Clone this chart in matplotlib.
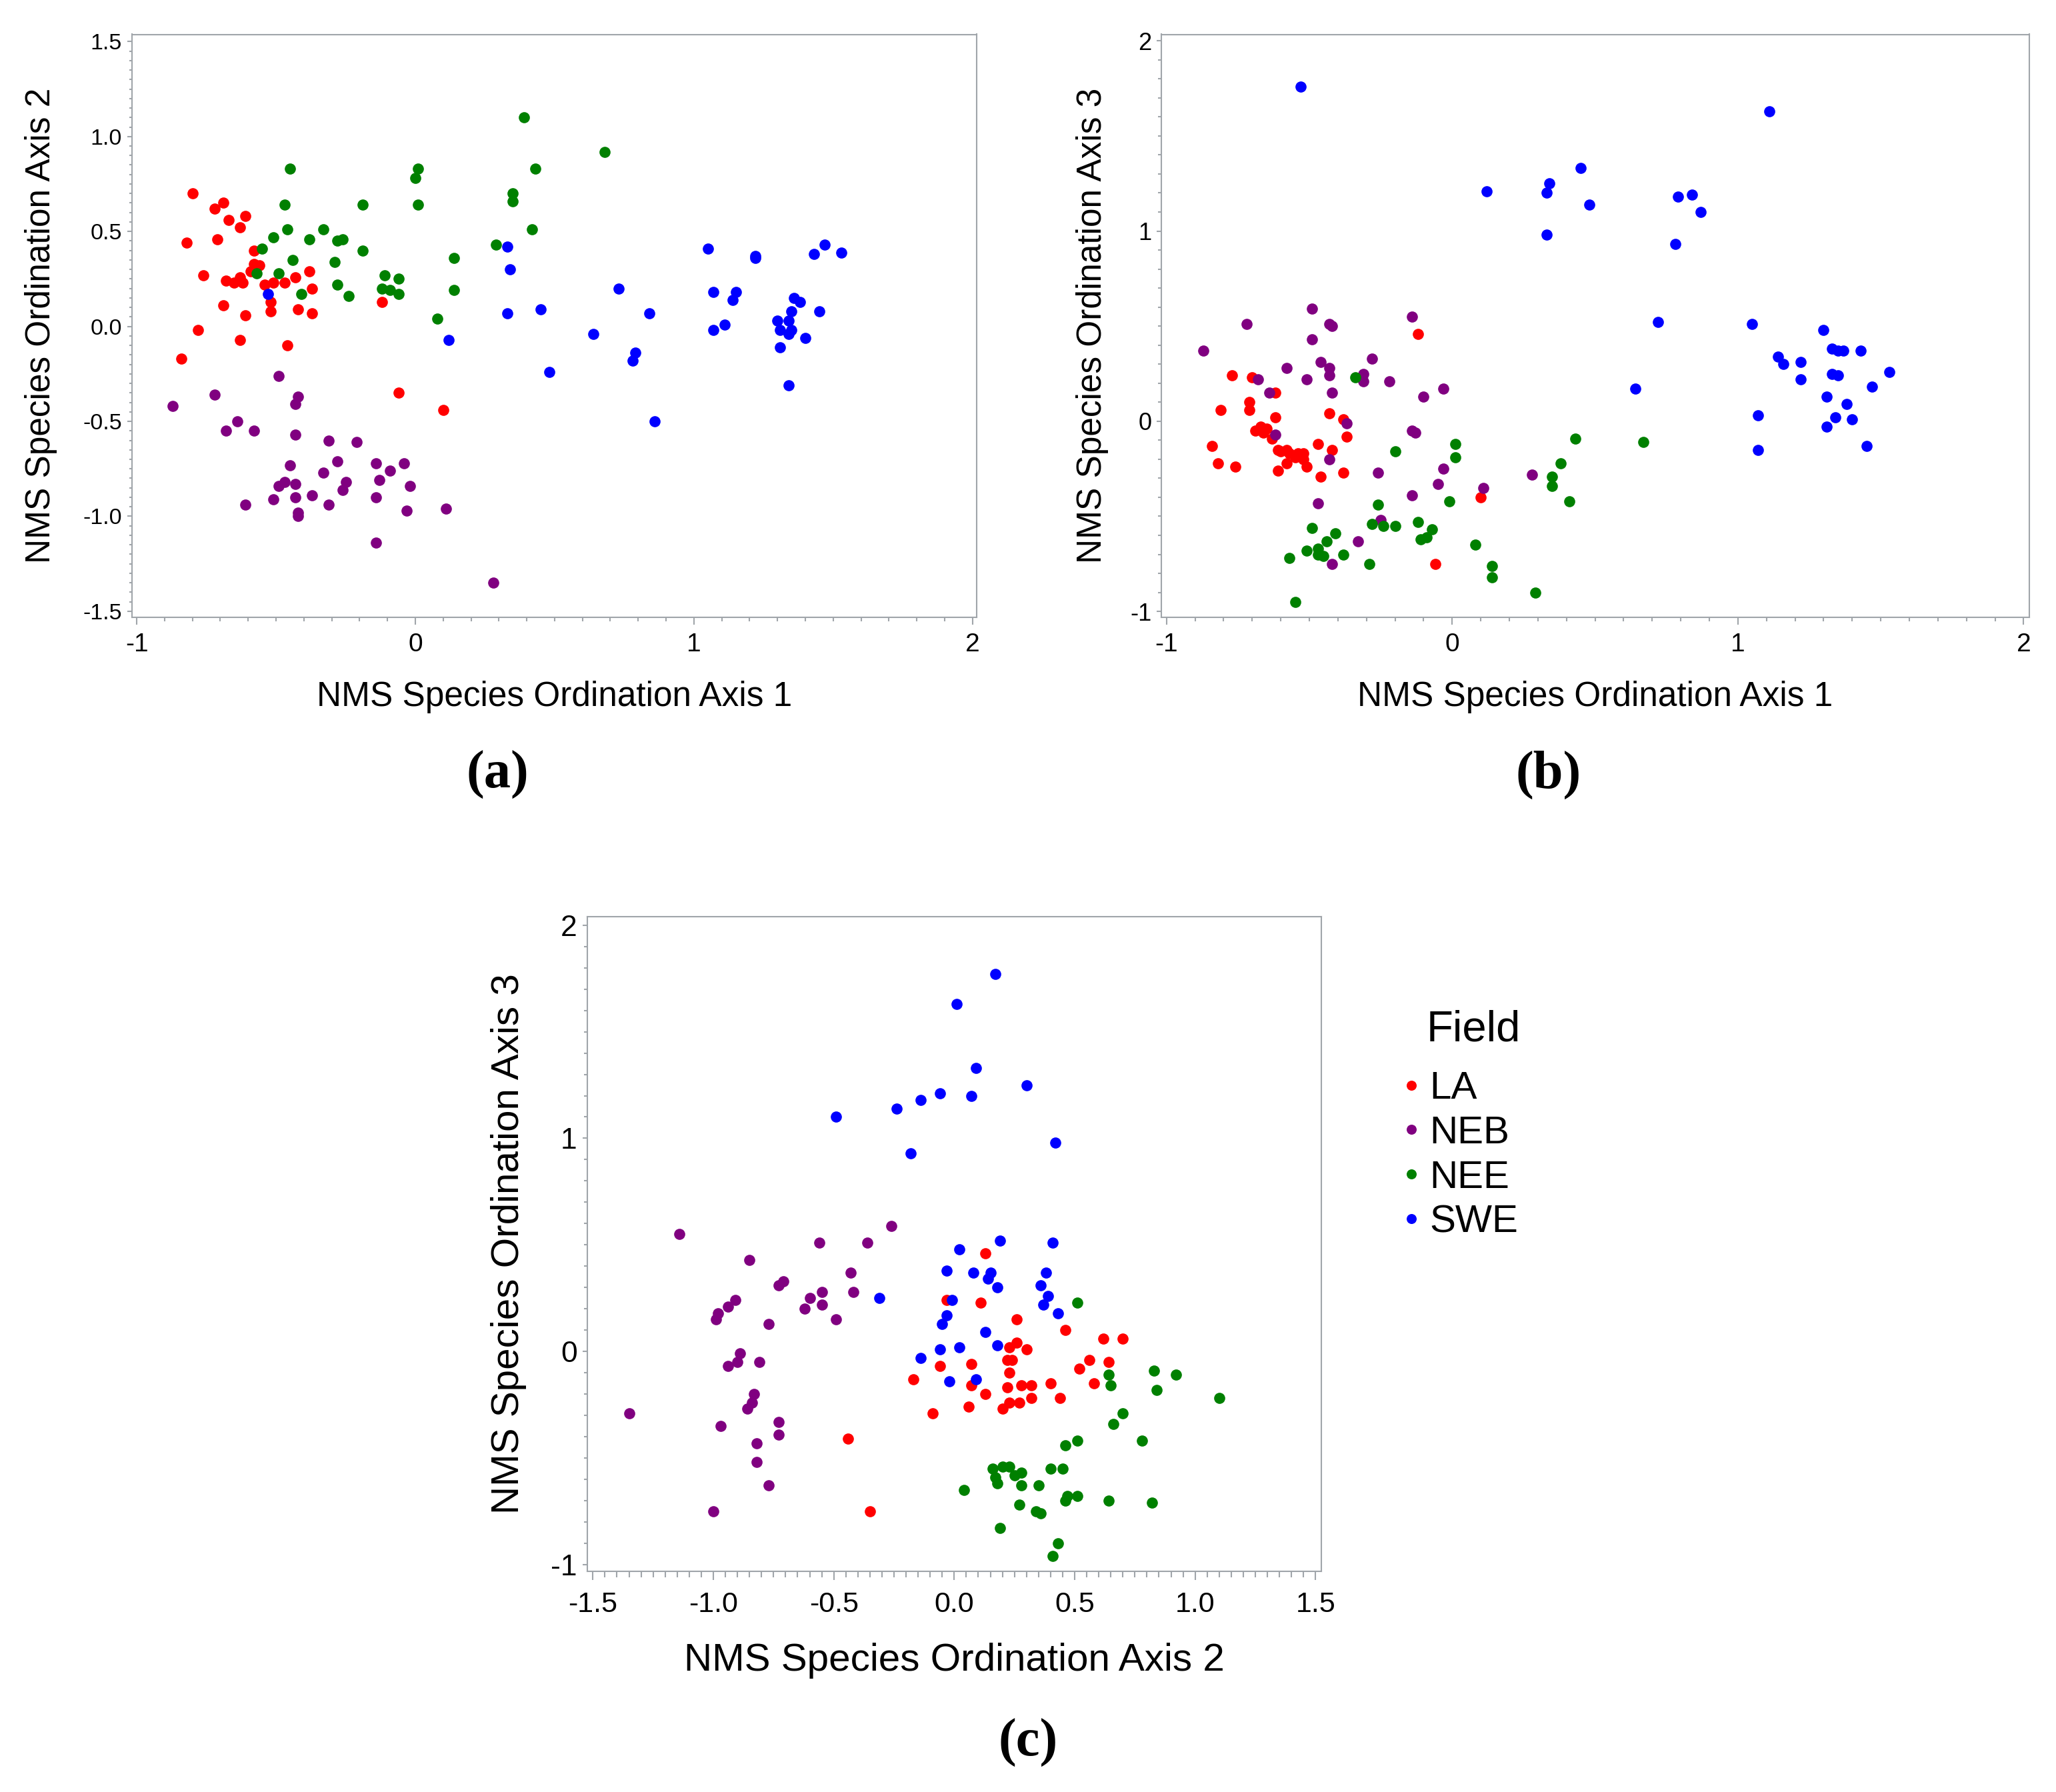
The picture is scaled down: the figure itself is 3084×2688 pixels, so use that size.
import matplotlib
matplotlib.use("Agg")
import matplotlib.pyplot as plt
from matplotlib.ticker import MultipleLocator, FormatStrFormatter

plt.rcParams['font.family'] = ['Liberation Sans', 'DejaVu Sans']
plt.rcParams['axes.unicode_minus'] = False

fields = ["LA", "NEB", "NEE", "SWE"]
colors = ["#ff0000", "#800080", "#008000", "#0000ff"]

# (a) axis 1 vs axis 2
a_la_x = [-0.80, -0.69, -0.72, -0.61, -0.67, -0.63, -0.82, -0.71, -0.58, -0.58, -0.56, -0.59,
          -0.76, -0.68, -0.65, -0.63, -0.62, -0.54, -0.51, -0.47, -0.43, -0.38, -0.37, -0.52,
          -0.52, -0.69, -0.61, -0.42, -0.37, -0.12, -0.78, -0.63, -0.46, -0.84, -0.06, 0.10]
a_la_y = [0.70, 0.65, 0.62, 0.58, 0.56, 0.52, 0.44, 0.46, 0.40, 0.33, 0.32, 0.29,
          0.27, 0.24, 0.23, 0.26, 0.23, 0.22, 0.23, 0.23, 0.26, 0.29, 0.20, 0.13,
          0.08, 0.11, 0.06, 0.09, 0.07, 0.13, -0.02, -0.07, -0.10, -0.17, -0.35, -0.44]
a_neb_x = [-0.49, -0.72, -0.87, -0.42, -0.43, -0.64, -0.68, -0.58, -0.43, -0.31, -0.21, -0.45,
           -0.28, -0.33, -0.14, -0.09, -0.04, -0.13, -0.47, -0.49, -0.43, -0.25, -0.26, -0.02,
           -0.51, -0.43, -0.37, -0.14, -0.61, -0.31, -0.42, -0.42, -0.03, 0.11, -0.14, 0.28]
a_neb_y = [-0.26, -0.36, -0.42, -0.37, -0.41, -0.50, -0.55, -0.55, -0.57, -0.60, -0.61, -0.73,
           -0.71, -0.77, -0.72, -0.76, -0.72, -0.81, -0.82, -0.84, -0.83, -0.82, -0.86, -0.84,
           -0.91, -0.90, -0.89, -0.90, -0.94, -0.94, -0.98, -1.00, -0.97, -0.96, -1.14, -1.35]
a_nee_x = [-0.45, -0.47, 0.39, 0.01, 0.00, 0.01, 0.43, 0.35, 0.35, 0.42, 0.29, -0.19,
           -0.46, -0.51, -0.33, -0.38, -0.28, -0.26, -0.55, -0.44, -0.19, -0.29, -0.57, -0.49,
           -0.11, -0.06, 0.14, -0.28, -0.41, -0.24, -0.12, -0.09, -0.06, 0.14, 0.08, 0.68]
a_nee_y = [0.83, 0.64, 1.10, 0.83, 0.78, 0.64, 0.83, 0.70, 0.66, 0.51, 0.43, 0.64,
           0.51, 0.47, 0.51, 0.46, 0.45, 0.46, 0.41, 0.35, 0.40, 0.34, 0.28, 0.28,
           0.27, 0.25, 0.36, 0.22, 0.17, 0.16, 0.20, 0.19, 0.17, 0.19, 0.04, 0.92]
a_swe_x = [-0.53, 0.33, 0.34, 0.33, 0.45, 0.12, 0.48, 0.73, 0.64, 0.84, 0.79, 0.78,
           0.86, 1.05, 1.07, 1.07, 1.11, 1.14, 1.15, 1.22, 1.22, 1.30, 1.34, 1.35,
           1.31, 1.34, 1.35, 1.31, 1.34, 1.36, 1.38, 1.40, 1.45, 1.43, 1.47, 1.53]
a_swe_y = [0.17, 0.42, 0.30, 0.07, 0.09, -0.07, -0.24, 0.20, -0.04, 0.07, -0.14, -0.18,
           -0.50, 0.41, 0.18, -0.02, 0.01, 0.14, 0.18, 0.36, 0.37, 0.03, 0.03, 0.08,
           -0.02, -0.04, -0.02, -0.11, -0.31, 0.15, 0.13, -0.06, 0.08, 0.38, 0.43, 0.39]

# (b) axis 1 vs axis 3
b_la_x = [-0.12, -0.77, -0.70, -0.62, -0.71, -0.71, -0.81, -0.62, -0.43, -0.38, -0.37, -0.69,
          -0.67, -0.65, -0.63, -0.84, -0.47, -0.61, -0.58, -0.57, -0.54, -0.52, -0.52, -0.42,
          -0.82, -0.76, -0.58, -0.61, -0.51, -0.46, -0.38, 0.10, -0.06, -0.60, -0.55, -0.66]
b_la_y = [0.46, 0.24, 0.23, 0.15, 0.10, 0.06, 0.06, 0.02, 0.04, 0.01, -0.08, -0.05,
          -0.03, -0.04, -0.09, -0.13, -0.12, -0.15, -0.15, -0.17, -0.17, -0.17, -0.20, -0.15,
          -0.22, -0.24, -0.22, -0.26, -0.24, -0.29, -0.27, -0.40, -0.75, -0.16, -0.19, -0.06]
b_neb_x = [-0.49, -0.72, -0.43, -0.42, -0.14, -0.49, -0.87, -0.28, -0.58, -0.46, -0.43, -0.43,
           -0.51, -0.68, -0.31, -0.31, -0.22, -0.64, -0.42, -0.03, -0.10, -0.37, -0.62, -0.14,
           -0.13, -0.43, -0.26, -0.03, -0.05, 0.11, 0.28, -0.14, -0.47, -0.25, -0.33, -0.42]
b_neb_y = [0.59, 0.51, 0.51, 0.50, 0.55, 0.43, 0.37, 0.33, 0.28, 0.31, 0.28, 0.24,
           0.22, 0.22, 0.25, 0.21, 0.21, 0.15, 0.15, 0.17, 0.13, -0.01, -0.07, -0.05,
           -0.06, -0.20, -0.27, -0.25, -0.33, -0.35, -0.28, -0.39, -0.43, -0.52, -0.63, -0.75]
b_nee_x = [-0.34, 0.01, 0.01, -0.20, 0.43, 0.38, 0.35, 0.35, 0.41, -0.01, -0.26, -0.28,
           -0.24, -0.20, -0.12, -0.07, -0.11, -0.09, -0.49, -0.41, -0.44, -0.51, -0.47, -0.47,
           -0.45, -0.38, -0.29, -0.57, 0.08, 0.14, 0.14, 0.29, -0.55, 0.67]
b_nee_y = [0.23, -0.12, -0.19, -0.16, -0.09, -0.22, -0.29, -0.34, -0.42, -0.42, -0.44, -0.54,
           -0.55, -0.55, -0.53, -0.57, -0.62, -0.61, -0.56, -0.59, -0.63, -0.68, -0.67, -0.70,
           -0.71, -0.70, -0.75, -0.72, -0.65, -0.76, -0.82, -0.90, -0.95, -0.11]
b_swe_x = [-0.53, 0.12, 0.34, 0.33, 0.45, 0.48, 0.33, 0.79, 0.84, 0.87, 0.78, 0.72,
           0.64, 1.11, 1.05, 1.30, 1.33, 1.35, 1.37, 1.43, 1.14, 1.16, 1.22, 1.22,
           1.33, 1.35, 1.53, 1.47, 1.31, 1.38, 1.07, 1.34, 1.40, 1.31, 1.07, 1.45]
b_swe_y = [1.76, 1.21, 1.25, 1.20, 1.33, 1.14, 0.98, 1.18, 1.19, 1.10, 0.93, 0.52,
           0.17, 1.63, 0.51, 0.48, 0.38, 0.37, 0.37, 0.37, 0.34, 0.30, 0.31, 0.22,
           0.25, 0.24, 0.26, 0.18, 0.13, 0.09, 0.03, 0.02, 0.01, -0.03, -0.15, -0.13]

# (c) axis 2 vs axis 3
c_la_x = [-0.44, -0.35, -0.17, -0.06, -0.09, -0.03, 0.13, 0.11, 0.26, 0.46, 0.62, 0.70,
          0.23, 0.26, 0.30, 0.22, 0.24, 0.56, 0.64, 0.07, 0.52, 0.23, 0.07, 0.22,
          0.28, 0.32, 0.40, 0.58, 0.13, 0.32, 0.44, 0.23, 0.27, 0.06, 0.20]
c_la_y = [-0.41, -0.75, -0.13, -0.07, -0.29, 0.24, 0.46, 0.23, 0.15, 0.10, 0.06, 0.06,
          0.02, 0.04, 0.01, -0.04, -0.04, -0.04, -0.05, -0.06, -0.08, -0.10, -0.16, -0.17,
          -0.16, -0.16, -0.15, -0.15, -0.20, -0.22, -0.22, -0.24, -0.24, -0.26, -0.27]
c_neb_x = [-1.14, -1.35, -0.85, -0.56, -0.36, -0.26, -0.43, -0.42, -0.73, -0.71, -0.60, -0.55,
           -0.55, -0.62, -0.49, -0.91, -0.94, -0.98, -0.99, -0.77, -0.89, -0.90, -0.94, -0.81,
           -0.83, -0.84, -0.86, -0.97, -0.73, -0.73, -0.82, -0.82, -0.77, -1.00]
c_neb_y = [0.55, -0.29, 0.43, 0.51, 0.51, 0.59, 0.37, 0.28, 0.31, 0.33, 0.25, 0.28,
           0.22, 0.20, 0.15, 0.24, 0.21, 0.18, 0.15, 0.13, -0.01, -0.05, -0.07, -0.05,
           -0.20, -0.24, -0.27, -0.35, -0.33, -0.39, -0.43, -0.52, -0.63, -0.75]
c_nee_x = [0.51, 0.83, 0.92, 0.64, 0.65, 0.84, 1.10, 0.70, 0.66, 0.51, 0.46, 0.78,
           0.16, 0.20, 0.23, 0.25, 0.28, 0.17, 0.18, 0.28, 0.35, 0.40, 0.45, 0.04,
           0.47, 0.46, 0.51, 0.64, 0.82, 0.27, 0.34, 0.36, 0.19, 0.43, 0.41]
c_nee_y = [0.23, -0.09, -0.11, -0.11, -0.16, -0.18, -0.22, -0.29, -0.34, -0.42, -0.44, -0.42,
           -0.55, -0.54, -0.54, -0.58, -0.57, -0.59, -0.62, -0.63, -0.63, -0.55, -0.55, -0.65,
           -0.68, -0.70, -0.68, -0.70, -0.71, -0.72, -0.75, -0.76, -0.83, -0.90, -0.96]
c_swe_x = [0.17, 0.01, 0.09, 0.30, -0.06, 0.07, -0.14, -0.24, -0.49, -0.18, 0.42, 0.19,
           0.02, 0.41, -0.03, 0.08, 0.15, 0.14, 0.18, 0.38, 0.36, 0.39, 0.37, 0.43,
           -0.31, -0.01, -0.03, -0.05, 0.13, -0.06, 0.02, 0.18, -0.14, -0.02, 0.09]
c_swe_y = [1.77, 1.63, 1.33, 1.25, 1.21, 1.20, 1.18, 1.14, 1.10, 0.93, 0.98, 0.52,
           0.48, 0.51, 0.38, 0.37, 0.37, 0.34, 0.30, 0.37, 0.31, 0.26, 0.22, 0.18,
           0.25, 0.24, 0.17, 0.13, 0.09, 0.01, 0.02, 0.03, -0.03, -0.14, -0.13]

gray = "#a0a5aa"
W, H = 3084, 2688


def box(left, top, right, bottom):
    return [left / W, 1 - bottom / H, (right - left) / W, (bottom - top) / H]


def draw(ax, series):
    lines = []
    for (x, y), c in zip(series, colors):
        ln, = ax.plot(x, y, "o", color=c, ms=12, mec="none", ls="none")
        lines.append(ln)
    return lines


def setup(ax, xlim, ylim, xstep, ystep, xfmt, yfmt, xlab, ylab,
          tick_fs, lab_fs, xlab_y, ylab_x, xlen, ylen, xpad, ypad):
    ax.set_xlim(*xlim)
    ax.set_ylim(*ylim)
    ax.xaxis.set_major_locator(MultipleLocator(xstep[0]))
    ax.xaxis.set_minor_locator(MultipleLocator(xstep[1]))
    ax.yaxis.set_major_locator(MultipleLocator(ystep[0]))
    ax.yaxis.set_minor_locator(MultipleLocator(ystep[1]))
    ax.xaxis.set_major_formatter(FormatStrFormatter(xfmt))
    ax.yaxis.set_major_formatter(FormatStrFormatter(yfmt))
    for s in ax.spines.values():
        s.set_color(gray)
        s.set_linewidth(1.5)
    ax.tick_params(axis="x", which="major", length=xlen[0], width=1.5, color=gray,
                   labelsize=tick_fs[0], pad=xpad)
    ax.tick_params(axis="x", which="minor", length=xlen[1], width=1.5, color=gray)
    ax.tick_params(axis="y", which="major", length=ylen[0], width=1.5, color=gray,
                   labelsize=tick_fs[1], pad=ypad)
    ax.tick_params(axis="y", which="minor", length=ylen[1], width=1.5, color=gray)
    ax.set_xlabel(xlab, fontsize=lab_fs, va="baseline")
    ax.xaxis.set_label_coords(0.5, xlab_y)
    ax.set_ylabel(ylab, fontsize=lab_fs, va="baseline", rotation_mode="anchor")
    ax.yaxis.set_label_coords(ylab_x, 0.5)


fig = plt.figure(figsize=(W / 100, H / 100), dpi=100)

ax_a = fig.add_axes(box(198, 51.5, 1465, 926))
draw(ax_a, [(a_la_x, a_la_y), (a_neb_x, a_neb_y), (a_nee_x, a_nee_y), (a_swe_x, a_swe_y)])
setup(ax_a, (-1.017, 2.015), (-1.532, 1.538), (1, 0.1), (0.5, 0.05), "%d", "%.1f",
      "NMS Species Ordination Axis 1", "NMS Species Ordination Axis 2",
      (28, 24.5), 37, -0.1516, -0.097, (7.7, 4.3), (4.7, 3.2), 9, 6)

ax_b = fig.add_axes(box(1742, 51.5, 3044, 926))
draw(ax_b, [(b_la_x, b_la_y), (b_neb_x, b_neb_y), (b_nee_x, b_nee_y), (b_swe_x, b_swe_y)])
setup(ax_b, (-1.018, 2.02), (-1.031, 2.034), (1, 0.1), (1, 0.1), "%d", "%d",
      "NMS Species Ordination Axis 1", "NMS Species Ordination Axis 3",
      (28, 26), 37, -0.1516, -0.0695, (7.7, 4.3), (4.7, 3.6), 9, 6)

ax_c = fig.add_axes(box(881, 1375, 1982, 2357))
handles = draw(ax_c, [(c_la_x, c_la_y), (c_neb_x, c_neb_y), (c_nee_x, c_nee_y), (c_swe_x, c_swe_y)])
setup(ax_c, (-1.523, 1.524), (-1.032, 2.04), (0.5, 0.05), (1, 0.1), "%.1f", "%d",
      "NMS Species Ordination Axis 2", "NMS Species Ordination Axis 3",
      (31, 32), 42, -0.1522, -0.0934, (9.4, 6.5), (5, 3.6), 12, 6)

# legend entries, with the "Field" heading set as its own text above them
fig.legend(handles, fields, loc="upper left",
           bbox_to_anchor=(2102 / W, 1 - 1606 / H), frameon=False,
           fontsize=42, handlelength=0.5, handletextpad=0.22,
           labelspacing=0.22, markerscale=0.9, borderpad=0, borderaxespad=0)
fig.text(2210 / W, 1 - 1544 / H, "Field", fontsize=47, ha="center", va="center")

panel_font = dict(family="Liberation Serif", weight="bold", size=58, ha="center", va="center")
fig.text(746 / W, 1 - 1162 / H, "(a)", **panel_font)
fig.text(2323 / W, 1 - 1162 / H, "(b)", **panel_font)
fig.text(1542 / W, 1 - 2614 / H, "(c)", **panel_font)

fig.savefig("out.png", dpi=100)
